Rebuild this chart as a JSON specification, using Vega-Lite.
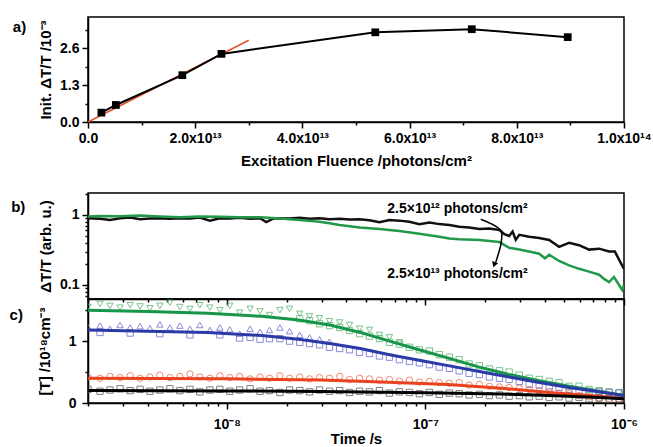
{
"$schema":"https://vega.github.io/schema/vega-lite/v6.json",
"background":"white",
"padding":{"left":8,"top":16,"right":5,"bottom":0},
"spacing":17,
"config":{
 "font":"Liberation Sans",
 "view":{"stroke":"#000","strokeWidth":1.5},
 "axis":{"grid":false,"domainColor":"#000","domainWidth":1.5,"tickColor":"#000","tickWidth":1.5,"labelFont":"Liberation Sans","labelFontWeight":"bold","labelFontSize":14,"labelColor":"#000","labelPadding":3,"labelFlush":false,"labelOverlap":false,"titleFont":"Liberation Sans","titleFontWeight":"bold","titleFontSize":15,"titleColor":"#000","titlePadding":8},
 "title":{"font":"Liberation Sans","fontWeight":"bold","fontSize":15,"color":"#000"}
},
"datasets":{
 "a":[{"f":2.5e12,"v":0.33},{"f":5.2e12,"v":0.60},{"f":1.76e13,"v":1.65},{"f":2.49e13,"v":2.40},{"f":5.36e13,"v":3.16},{"f":7.16e13,"v":3.27},{"f":8.95e13,"v":2.99}],
 "afit":[{"f":0,"v":0},{"f":3e13,"v":2.88}],
 "bcurve":[
  {"s":"lo","t":2.0e-9,"v":0.90},{"s":"lo","t":2.3e-9,"v":0.88},{"s":"lo","t":2.58e-9,"v":0.85},{"s":"lo","t":2.9e-9,"v":0.90},{"s":"lo","t":3.26e-9,"v":0.92},{"s":"lo","t":3.66e-9,"v":0.87},{"s":"lo","t":4.1e-9,"v":0.89},{"s":"lo","t":4.6e-9,"v":0.90},{"s":"lo","t":5.17e-9,"v":0.88},{"s":"lo","t":5.8e-9,"v":0.90},{"s":"lo","t":6.52e-9,"v":0.89},{"s":"lo","t":7.31e-9,"v":0.92},{"s":"lo","t":8.22e-9,"v":0.83},{"s":"lo","t":9.22e-9,"v":0.90},{"s":"lo","t":1.035e-8,"v":0.89},{"s":"lo","t":1.16e-8,"v":0.91},{"s":"lo","t":1.31e-8,"v":0.88},{"s":"lo","t":1.47e-8,"v":0.90},{"s":"lo","t":1.58e-8,"v":0.79},{"s":"lo","t":1.7e-8,"v":0.88},{"s":"lo","t":1.85e-8,"v":0.90},{"s":"lo","t":2.07e-8,"v":0.89},{"s":"lo","t":2.33e-8,"v":0.91},{"s":"lo","t":2.61e-8,"v":0.88},{"s":"lo","t":2.93e-8,"v":0.90},{"s":"lo","t":3.29e-8,"v":0.87},{"s":"lo","t":3.7e-8,"v":0.88},{"s":"lo","t":4.15e-8,"v":0.86},{"s":"lo","t":4.66e-8,"v":0.87},{"s":"lo","t":5.23e-8,"v":0.84},{"s":"lo","t":5.87e-8,"v":0.79},{"s":"lo","t":6.59e-8,"v":0.85},{"s":"lo","t":7.4e-8,"v":0.83},{"s":"lo","t":8.31e-8,"v":0.80},{"s":"lo","t":9.33e-8,"v":0.74},{"s":"lo","t":1.047e-7,"v":0.78},{"s":"lo","t":1.175e-7,"v":0.74},{"s":"lo","t":1.32e-7,"v":0.72},{"s":"lo","t":1.48e-7,"v":0.68},{"s":"lo","t":1.66e-7,"v":0.66},{"s":"lo","t":1.87e-7,"v":0.63},{"s":"lo","t":2.1e-7,"v":0.64},{"s":"lo","t":2.36e-7,"v":0.61},{"s":"lo","t":2.5e-7,"v":0.53},{"s":"lo","t":2.64e-7,"v":0.50},{"s":"lo","t":2.75e-7,"v":0.58},{"s":"lo","t":2.85e-7,"v":0.44},{"s":"lo","t":2.97e-7,"v":0.52},{"s":"lo","t":3.33e-7,"v":0.49},{"s":"lo","t":3.74e-7,"v":0.47},{"s":"lo","t":4.2e-7,"v":0.44},{"s":"lo","t":4.71e-7,"v":0.35},{"s":"lo","t":5.29e-7,"v":0.40},{"s":"lo","t":5.94e-7,"v":0.37},{"s":"lo","t":6.67e-7,"v":0.32},{"s":"lo","t":7.49e-7,"v":0.33},{"s":"lo","t":8.41e-7,"v":0.30},{"s":"lo","t":9.0e-7,"v":0.30},{"s":"lo","t":9.44e-7,"v":0.23},{"s":"lo","t":1e-6,"v":0.17},
  {"s":"hi","t":2.0e-9,"v":0.95},{"s":"hi","t":2.3e-9,"v":0.97},{"s":"hi","t":2.9e-9,"v":0.96},{"s":"hi","t":3.66e-9,"v":0.98},{"s":"hi","t":4.6e-9,"v":0.95},{"s":"hi","t":5.8e-9,"v":0.93},{"s":"hi","t":7.31e-9,"v":0.95},{"s":"hi","t":9.22e-9,"v":0.94},{"s":"hi","t":1.16e-8,"v":0.93},{"s":"hi","t":1.47e-8,"v":0.93},{"s":"hi","t":1.85e-8,"v":0.89},{"s":"hi","t":2.33e-8,"v":0.85},{"s":"hi","t":2.93e-8,"v":0.80},{"s":"hi","t":3.29e-8,"v":0.76},{"s":"hi","t":3.7e-8,"v":0.72},{"s":"hi","t":4.66e-8,"v":0.66},{"s":"hi","t":5.87e-8,"v":0.63},{"s":"hi","t":7.4e-8,"v":0.59},{"s":"hi","t":9.33e-8,"v":0.54},{"s":"hi","t":1.175e-7,"v":0.49},{"s":"hi","t":1.32e-7,"v":0.46},{"s":"hi","t":1.48e-7,"v":0.45},{"s":"hi","t":1.87e-7,"v":0.44},{"s":"hi","t":2.36e-7,"v":0.41},{"s":"hi","t":2.64e-7,"v":0.34},{"s":"hi","t":2.97e-7,"v":0.32},{"s":"hi","t":3.33e-7,"v":0.30},{"s":"hi","t":3.74e-7,"v":0.28},{"s":"hi","t":4.0e-7,"v":0.24},{"s":"hi","t":4.2e-7,"v":0.27},{"s":"hi","t":4.71e-7,"v":0.22},{"s":"hi","t":5.29e-7,"v":0.19},{"s":"hi","t":5.94e-7,"v":0.17},{"s":"hi","t":6.67e-7,"v":0.155},{"s":"hi","t":7.49e-7,"v":0.14},{"s":"hi","t":8.0e-7,"v":0.12},{"s":"hi","t":8.41e-7,"v":0.11},{"s":"hi","t":8.9e-7,"v":0.13},{"s":"hi","t":9.44e-7,"v":0.10},{"s":"hi","t":9.8e-7,"v":0.085},{"s":"hi","t":1e-6,"v":0.10}
 ],
 "blab":[{"t":1.45e-7,"v":1.22,"label":"2.5×10¹² photons/cm²"},{"t":1.45e-7,"v":0.144,"label":"2.5×10¹³ photons/cm²"}],
 "barrow":[{"o":1,"t":1.9e-7,"v":0.87},{"o":2,"t":2.36e-7,"v":0.63},{"o":3,"t":2.41e-7,"v":0.41},{"o":4,"t":2.26e-7,"v":0.21}],
 "bhead":[{"t":2.22e-7,"v":0.195}],
 "cfit":[
  {"s":"gf","t":2e-9,"v":1.50},{"s":"gf","t":4e-9,"v":1.48},{"s":"gf","t":8e-9,"v":1.45},{"s":"gf","t":1.5e-8,"v":1.40},{"s":"gf","t":2.3e-8,"v":1.34},{"s":"gf","t":3.3e-8,"v":1.26},{"s":"gf","t":4.7e-8,"v":1.14},{"s":"gf","t":6.6e-8,"v":1.00},{"s":"gf","t":9.3e-8,"v":0.86},{"s":"gf","t":1.32e-7,"v":0.72},{"s":"gf","t":1.87e-7,"v":0.58},{"s":"gf","t":2.64e-7,"v":0.46},{"s":"gf","t":3.74e-7,"v":0.36},{"s":"gf","t":5.29e-7,"v":0.27},{"s":"gf","t":7.49e-7,"v":0.19},{"s":"gf","t":1e-6,"v":0.12},
  {"s":"bf","t":2e-9,"v":1.18},{"s":"bf","t":4e-9,"v":1.16},{"s":"bf","t":8e-9,"v":1.14},{"s":"bf","t":1.5e-8,"v":1.09},{"s":"bf","t":2.3e-8,"v":1.03},{"s":"bf","t":3.3e-8,"v":0.96},{"s":"bf","t":4.7e-8,"v":0.88},{"s":"bf","t":6.6e-8,"v":0.78},{"s":"bf","t":9.3e-8,"v":0.69},{"s":"bf","t":1.32e-7,"v":0.60},{"s":"bf","t":1.87e-7,"v":0.51},{"s":"bf","t":2.64e-7,"v":0.42},{"s":"bf","t":3.74e-7,"v":0.33},{"s":"bf","t":5.29e-7,"v":0.25},{"s":"bf","t":7.49e-7,"v":0.18},{"s":"bf","t":1e-6,"v":0.12},
  {"s":"rf","t":2e-9,"v":0.40},{"s":"rf","t":1e-8,"v":0.39},{"s":"rf","t":3e-8,"v":0.37},{"s":"rf","t":6e-8,"v":0.34},{"s":"rf","t":1.3e-7,"v":0.30},{"s":"rf","t":2.4e-7,"v":0.24},{"s":"rf","t":4.2e-7,"v":0.17},{"s":"rf","t":7.5e-7,"v":0.11},{"s":"rf","t":1e-6,"v":0.07},
  {"s":"kf","t":2e-9,"v":0.20},{"s":"kf","t":1e-8,"v":0.195},{"s":"kf","t":3e-8,"v":0.185},{"s":"kf","t":1e-7,"v":0.165},{"s":"kf","t":2.4e-7,"v":0.145},{"s":"kf","t":4.2e-7,"v":0.12},{"s":"kf","t":7.5e-7,"v":0.09},{"s":"kf","t":1e-6,"v":0.07}
 ],
 "cmark":[
  {"s":"gt","t":2.0e-9,"v":1.55},{"s":"gt","t":2.3e-9,"v":1.60},{"s":"gt","t":2.58e-9,"v":1.57},{"s":"gt","t":2.9e-9,"v":1.54},{"s":"gt","t":3.26e-9,"v":1.58},{"s":"gt","t":3.66e-9,"v":1.56},{"s":"gt","t":4.1e-9,"v":1.53},{"s":"gt","t":4.6e-9,"v":1.57},{"s":"gt","t":5.17e-9,"v":1.62},{"s":"gt","t":5.8e-9,"v":1.55},{"s":"gt","t":6.52e-9,"v":1.52},{"s":"gt","t":7.31e-9,"v":1.58},{"s":"gt","t":8.22e-9,"v":1.54},{"s":"gt","t":9.22e-9,"v":1.50},{"s":"gt","t":1.035e-8,"v":1.57},{"s":"gt","t":1.16e-8,"v":1.46},{"s":"gt","t":1.31e-8,"v":1.52},{"s":"gt","t":1.47e-8,"v":1.48},{"s":"gt","t":1.64e-8,"v":1.42},{"s":"gt","t":1.85e-8,"v":1.50},{"s":"gt","t":2.07e-8,"v":1.52},{"s":"gt","t":2.33e-8,"v":1.44},{"s":"gt","t":2.61e-8,"v":1.40},{"s":"gt","t":2.93e-8,"v":1.37},{"s":"gt","t":3.29e-8,"v":1.32},{"s":"gt","t":3.7e-8,"v":1.30},{"s":"gt","t":4.15e-8,"v":1.26},{"s":"gt","t":4.66e-8,"v":1.20},{"s":"gt","t":5.23e-8,"v":1.18},{"s":"gt","t":5.87e-8,"v":1.10},{"s":"gt","t":6.59e-8,"v":1.06},{"s":"gt","t":7.4e-8,"v":0.98},
  {"s":"gs","t":2.33e-8,"v":1.36},{"s":"gs","t":2.61e-8,"v":1.33},{"s":"gs","t":2.93e-8,"v":1.28},{"s":"gs","t":3.29e-8,"v":1.25},{"s":"gs","t":3.7e-8,"v":1.22},{"s":"gs","t":4.15e-8,"v":1.17},{"s":"gs","t":4.66e-8,"v":1.12},{"s":"gs","t":5.23e-8,"v":1.08},{"s":"gs","t":5.87e-8,"v":1.04},{"s":"gs","t":6.59e-8,"v":0.98},{"s":"gs","t":7.4e-8,"v":0.95},{"s":"gs","t":8.31e-8,"v":0.90},{"s":"gs","t":9.33e-8,"v":0.86},{"s":"gs","t":1.047e-7,"v":0.84},{"s":"gs","t":1.175e-7,"v":0.78},{"s":"gs","t":1.32e-7,"v":0.74},{"s":"gs","t":1.48e-7,"v":0.70},{"s":"gs","t":1.66e-7,"v":0.63},{"s":"gs","t":1.87e-7,"v":0.60},{"s":"gs","t":2.1e-7,"v":0.55},{"s":"gs","t":2.36e-7,"v":0.52},{"s":"gs","t":2.64e-7,"v":0.50},{"s":"gs","t":2.97e-7,"v":0.45},{"s":"gs","t":3.33e-7,"v":0.40},{"s":"gs","t":3.74e-7,"v":0.38},{"s":"gs","t":4.2e-7,"v":0.35},{"s":"gs","t":4.71e-7,"v":0.33},{"s":"gs","t":5.29e-7,"v":0.27},{"s":"gs","t":5.94e-7,"v":0.27},{"s":"gs","t":6.67e-7,"v":0.22},{"s":"gs","t":7.49e-7,"v":0.20},{"s":"gs","t":8.41e-7,"v":0.18},{"s":"gs","t":9.44e-7,"v":0.17},{"s":"gs","t":1e-6,"v":0.15},
  {"s":"bt","t":2.0e-9,"v":1.22},{"s":"bt","t":2.3e-9,"v":1.25},{"s":"bt","t":2.58e-9,"v":1.20},{"s":"bt","t":2.9e-9,"v":1.26},{"s":"bt","t":3.26e-9,"v":1.22},{"s":"bt","t":3.66e-9,"v":1.24},{"s":"bt","t":4.1e-9,"v":1.21},{"s":"bt","t":4.6e-9,"v":1.27},{"s":"bt","t":5.17e-9,"v":1.22},{"s":"bt","t":5.8e-9,"v":1.25},{"s":"bt","t":6.52e-9,"v":1.20},{"s":"bt","t":7.31e-9,"v":1.26},{"s":"bt","t":8.22e-9,"v":1.18},{"s":"bt","t":9.22e-9,"v":1.22},{"s":"bt","t":1.035e-8,"v":1.19},{"s":"bt","t":1.16e-8,"v":1.12},{"s":"bt","t":1.31e-8,"v":1.20},{"s":"bt","t":1.47e-8,"v":1.15},{"s":"bt","t":1.64e-8,"v":1.18},{"s":"bt","t":1.85e-8,"v":1.22},{"s":"bt","t":2.07e-8,"v":1.16},{"s":"bt","t":2.33e-8,"v":1.10},{"s":"bt","t":2.61e-8,"v":1.06},{"s":"bt","t":2.93e-8,"v":1.03},{"s":"bt","t":3.29e-8,"v":0.99},
  {"s":"bs","t":2.3e-9,"v":1.14},{"s":"bs","t":3.26e-9,"v":1.13},{"s":"bs","t":4.6e-9,"v":1.12},{"s":"bs","t":6.52e-9,"v":1.10},{"s":"bs","t":9.22e-9,"v":1.10},{"s":"bs","t":1.16e-8,"v":1.05},{"s":"bs","t":1.31e-8,"v":1.06},{"s":"bs","t":1.47e-8,"v":1.03},{"s":"bs","t":1.64e-8,"v":1.04},{"s":"bs","t":1.85e-8,"v":1.04},{"s":"bs","t":2.07e-8,"v":1.00},{"s":"bs","t":2.33e-8,"v":0.98},{"s":"bs","t":2.61e-8,"v":0.96},{"s":"bs","t":2.93e-8,"v":0.94},{"s":"bs","t":3.29e-8,"v":0.90},{"s":"bs","t":3.7e-8,"v":0.88},{"s":"bs","t":4.15e-8,"v":0.86},{"s":"bs","t":4.66e-8,"v":0.82},{"s":"bs","t":5.23e-8,"v":0.80},{"s":"bs","t":5.87e-8,"v":0.76},{"s":"bs","t":6.59e-8,"v":0.74},{"s":"bs","t":7.4e-8,"v":0.70},{"s":"bs","t":8.31e-8,"v":0.67},{"s":"bs","t":9.33e-8,"v":0.65},{"s":"bs","t":1.047e-7,"v":0.62},{"s":"bs","t":1.175e-7,"v":0.58},{"s":"bs","t":1.32e-7,"v":0.56},{"s":"bs","t":1.48e-7,"v":0.52},{"s":"bs","t":1.66e-7,"v":0.48},{"s":"bs","t":1.87e-7,"v":0.46},{"s":"bs","t":2.1e-7,"v":0.42},{"s":"bs","t":2.36e-7,"v":0.40},{"s":"bs","t":2.64e-7,"v":0.38},{"s":"bs","t":2.97e-7,"v":0.35},{"s":"bs","t":3.33e-7,"v":0.30},{"s":"bs","t":3.74e-7,"v":0.29},{"s":"bs","t":4.2e-7,"v":0.26},{"s":"bs","t":4.71e-7,"v":0.25},{"s":"bs","t":5.29e-7,"v":0.22},{"s":"bs","t":5.94e-7,"v":0.20},{"s":"bs","t":6.67e-7,"v":0.19},{"s":"bs","t":7.49e-7,"v":0.18},{"s":"bs","t":8.41e-7,"v":0.17},{"s":"bs","t":9.44e-7,"v":0.16},
  {"s":"r","t":2.0e-9,"v":0.42},{"s":"r","t":2.3e-9,"v":0.40},{"s":"r","t":2.58e-9,"v":0.43},{"s":"r","t":2.9e-9,"v":0.41},{"s":"r","t":3.26e-9,"v":0.44},{"s":"r","t":3.66e-9,"v":0.40},{"s":"r","t":4.1e-9,"v":0.42},{"s":"r","t":4.6e-9,"v":0.45},{"s":"r","t":5.17e-9,"v":0.41},{"s":"r","t":5.8e-9,"v":0.43},{"s":"r","t":6.52e-9,"v":0.47},{"s":"r","t":7.31e-9,"v":0.42},{"s":"r","t":8.22e-9,"v":0.40},{"s":"r","t":9.22e-9,"v":0.44},{"s":"r","t":1.035e-8,"v":0.41},{"s":"r","t":1.16e-8,"v":0.43},{"s":"r","t":1.31e-8,"v":0.39},{"s":"r","t":1.47e-8,"v":0.42},{"s":"r","t":1.64e-8,"v":0.40},{"s":"r","t":1.85e-8,"v":0.44},{"s":"r","t":2.07e-8,"v":0.40},{"s":"r","t":2.33e-8,"v":0.42},{"s":"r","t":2.61e-8,"v":0.39},{"s":"r","t":2.93e-8,"v":0.41},{"s":"r","t":3.29e-8,"v":0.40},{"s":"r","t":3.7e-8,"v":0.43},{"s":"r","t":4.15e-8,"v":0.38},{"s":"r","t":4.66e-8,"v":0.40},{"s":"r","t":5.23e-8,"v":0.39},{"s":"r","t":5.87e-8,"v":0.37},{"s":"r","t":6.59e-8,"v":0.38},{"s":"r","t":7.4e-8,"v":0.35},{"s":"r","t":8.31e-8,"v":0.37},{"s":"r","t":9.33e-8,"v":0.34},{"s":"r","t":1.047e-7,"v":0.35},{"s":"r","t":1.175e-7,"v":0.33},{"s":"r","t":1.32e-7,"v":0.32},{"s":"r","t":1.48e-7,"v":0.33},{"s":"r","t":1.66e-7,"v":0.29},{"s":"r","t":1.87e-7,"v":0.30},{"s":"r","t":2.1e-7,"v":0.27},{"s":"r","t":2.36e-7,"v":0.26},{"s":"r","t":2.64e-7,"v":0.25},{"s":"r","t":2.97e-7,"v":0.24},{"s":"r","t":3.33e-7,"v":0.22},{"s":"r","t":3.74e-7,"v":0.20},{"s":"r","t":4.2e-7,"v":0.19},{"s":"r","t":4.71e-7,"v":0.16},{"s":"r","t":5.29e-7,"v":0.15},{"s":"r","t":5.94e-7,"v":0.12},{"s":"r","t":6.67e-7,"v":0.10},{"s":"r","t":7.49e-7,"v":0.08},{"s":"r","t":8.41e-7,"v":0.07},{"s":"r","t":9.44e-7,"v":0.06},
  {"s":"k","t":2.0e-9,"v":0.22},{"s":"k","t":2.3e-9,"v":0.19},{"s":"k","t":2.58e-9,"v":0.21},{"s":"k","t":2.9e-9,"v":0.23},{"s":"k","t":3.26e-9,"v":0.20},{"s":"k","t":3.66e-9,"v":0.22},{"s":"k","t":4.1e-9,"v":0.19},{"s":"k","t":4.6e-9,"v":0.21},{"s":"k","t":5.17e-9,"v":0.23},{"s":"k","t":5.8e-9,"v":0.20},{"s":"k","t":6.52e-9,"v":0.22},{"s":"k","t":7.31e-9,"v":0.18},{"s":"k","t":8.22e-9,"v":0.21},{"s":"k","t":9.22e-9,"v":0.22},{"s":"k","t":1.035e-8,"v":0.19},{"s":"k","t":1.16e-8,"v":0.21},{"s":"k","t":1.31e-8,"v":0.23},{"s":"k","t":1.47e-8,"v":0.19},{"s":"k","t":1.64e-8,"v":0.20},{"s":"k","t":1.85e-8,"v":0.17},{"s":"k","t":2.07e-8,"v":0.21},{"s":"k","t":2.33e-8,"v":0.20},{"s":"k","t":2.61e-8,"v":0.18},{"s":"k","t":2.93e-8,"v":0.21},{"s":"k","t":3.29e-8,"v":0.19},{"s":"k","t":3.7e-8,"v":0.20},{"s":"k","t":4.15e-8,"v":0.17},{"s":"k","t":4.66e-8,"v":0.19},{"s":"k","t":5.23e-8,"v":0.18},{"s":"k","t":5.87e-8,"v":0.20},{"s":"k","t":6.59e-8,"v":0.16},{"s":"k","t":7.4e-8,"v":0.18},{"s":"k","t":8.31e-8,"v":0.17},{"s":"k","t":9.33e-8,"v":0.15},{"s":"k","t":1.047e-7,"v":0.17},{"s":"k","t":1.175e-7,"v":0.14},{"s":"k","t":1.32e-7,"v":0.16},{"s":"k","t":1.48e-7,"v":0.15},{"s":"k","t":1.66e-7,"v":0.13},{"s":"k","t":1.87e-7,"v":0.14},{"s":"k","t":2.1e-7,"v":0.12},{"s":"k","t":2.36e-7,"v":0.13},{"s":"k","t":2.64e-7,"v":0.11},{"s":"k","t":2.97e-7,"v":0.12},{"s":"k","t":3.33e-7,"v":0.10},{"s":"k","t":3.74e-7,"v":0.11},{"s":"k","t":4.2e-7,"v":0.09},{"s":"k","t":4.71e-7,"v":0.10},{"s":"k","t":5.29e-7,"v":0.08},{"s":"k","t":5.94e-7,"v":0.09},{"s":"k","t":6.67e-7,"v":0.07},{"s":"k","t":7.49e-7,"v":0.08},{"s":"k","t":8.41e-7,"v":0.06},{"s":"k","t":9.44e-7,"v":0.07}
 ]
},
"vconcat":[
 {
  "width":536,"height":105,
  "title":{"text":"a)","orient":"left","anchor":"end","angle":0,"align":"right","baseline":"top","offset":-1,"dy":3,"frame":"group"},
  "encoding":{
   "x":{"field":"f","type":"quantitative","scale":{"domain":[0,1e14],"nice":false},
     "axis":{"title":"Excitation Fluence /photons/cm²","values":[0,1e13,2e13,3e13,4e13,5e13,6e13,7e13,8e13,9e13,1e14],
       "labelExpr":"datum.value == 0 ? '0.0' : datum.value == 1e14 ? '1.0x10¹⁴' : (datum.value % 2e13 == 0 ? format(datum.value/1e13, '.1f') + 'x10¹³' : '')",
       "tickSize":{"condition":{"test":"datum.value % 2e13 == 0","value":6},"value":3},"titlePadding":8}},
   "y":{"field":"v","type":"quantitative","scale":{"domain":[0,3.7],"nice":false},
     "axis":{"title":"Init. ΔT/T /10⁻³","values":[0,0.65,1.3,1.95,2.6,3.25],"titlePadding":6,
       "labelExpr":"(datum.value == 0 || datum.value == 1.3 || datum.value == 2.6) ? format(datum.value, '.1f') : ''",
       "tickSize":{"condition":{"test":"datum.value == 0 || datum.value == 1.3 || datum.value == 2.6","value":6},"value":3}}}
  },
  "layer":[
   {"data":{"name":"afit"},"mark":{"type":"line","color":"#e8502a","strokeWidth":1.5}},
   {"data":{"name":"a"},"mark":{"type":"line","color":"#000","strokeWidth":2}},
   {"data":{"name":"a"},"mark":{"type":"square","color":"#000","filled":true,"size":60,"opacity":1}}
  ]
 },
 {
  "spacing":0,"bounds":"flush",
  "vconcat":[
   {
    "width":536,"height":106,
    "title":{"text":"b)","orient":"left","anchor":"end","angle":0,"align":"right","baseline":"top","offset":-1,"dy":7,"frame":"group"},
    "encoding":{
     "x":{"field":"t","type":"quantitative","scale":{"type":"log","domain":[2e-9,1e-6],"nice":false},
       "axis":{"title":null,"labels":false,"values":[2e-9,3e-9,4e-9,5e-9,6e-9,7e-9,8e-9,9e-9,1e-8,2e-8,3e-8,4e-8,5e-8,6e-8,7e-8,8e-8,9e-8,1e-7,2e-7,3e-7,4e-7,5e-7,6e-7,7e-7,8e-7,9e-7,1e-6],
        "tickSize":{"condition":{"test":"datum.value == 1e-8 || datum.value == 1e-7 || datum.value == 1e-6","value":6},"value":3}}},
     "y":{"field":"v","type":"quantitative","scale":{"type":"log","domain":[0.063,2.06],"nice":false},
       "axis":{"title":"ΔT/T (arb. u.)","titlePadding":6,"values":[0.07,0.08,0.09,0.1,0.2,0.3,0.4,0.5,0.6,0.7,0.8,0.9,1,2],
        "labelExpr":"datum.value == 1 ? '1' : datum.value == 0.1 ? '0.1' : ''",
        "tickSize":{"condition":{"test":"datum.value == 1 || datum.value == 0.1","value":6},"value":3}}}
    },
    "layer":[
     {"data":{"name":"bcurve"},"mark":{"type":"line","strokeWidth":2.5,"clip":true},
      "encoding":{"color":{"field":"s","type":"nominal","scale":{"domain":["gt","gs","bt","bs","r","k","gf","bf","rf","kf","lo","hi"],"range":["#4fb064","#4fb064","#6464cc","#6464cc","#f0603e","#555555","#17964a","#2b3aa6","#e8421e","#000000","#111111","#22994a"]},"legend":null}}},
     {"data":{"name":"barrow"},"mark":{"type":"line","color":"#000","strokeWidth":1.5,"interpolate":"cardinal"},
      "encoding":{"order":{"field":"o","type":"quantitative"}}},
     {"data":{"name":"bhead"},"mark":{"type":"point","shape":"triangle-down","filled":true,"color":"#000","size":40,"angle":20,"opacity":1}},
     {"data":{"name":"blab"},"mark":{"type":"text","font":"Liberation Sans","fontWeight":"bold","fontSize":14,"color":"#000"},
      "encoding":{"text":{"field":"label","type":"nominal"}}}
    ]
   },
   {
    "width":536,"height":104,
    "title":{"text":"c)","orient":"left","anchor":"end","angle":0,"align":"right","baseline":"top","offset":1,"dy":9,"frame":"group"},
    "encoding":{
     "x":{"field":"t","type":"quantitative","scale":{"type":"log","domain":[2e-9,1e-6],"nice":false},
       "axis":{"title":"Time /s","labelPadding":8,"titlePadding":0,"values":[2e-9,3e-9,4e-9,5e-9,6e-9,7e-9,8e-9,9e-9,1e-8,2e-8,3e-8,4e-8,5e-8,6e-8,7e-8,8e-8,9e-8,1e-7,2e-7,3e-7,4e-7,5e-7,6e-7,7e-7,8e-7,9e-7,1e-6],
        "labelExpr":"datum.value == 1e-8 ? '10⁻⁸' : datum.value == 1e-7 ? '10⁻⁷' : datum.value == 1e-6 ? '10⁻⁶' : ''",
        "tickSize":{"condition":{"test":"datum.value == 1e-8 || datum.value == 1e-7 || datum.value == 1e-6","value":6},"value":3}}},
     "y":{"field":"v","type":"quantitative","scale":{"domain":[0,1.68],"nice":false},
       "axis":{"title":"[T] /10¹⁸cm⁻³","titlePadding":16,"values":[0,0.5,1,1.5],"labelPadding":6,
        "labelExpr":"datum.value == 0 ? '0' : datum.value == 1 ? '1' : ''",
        "tickSize":{"condition":{"test":"datum.value == 0 || datum.value == 1","value":6},"value":3}}}
    },
    "layer":[
     {"data":{"name":"cmark"},"mark":{"type":"point","filled":false,"strokeWidth":1,"size":40,"opacity":0.75,"clip":true},
      "encoding":{
       "color":{"field":"s","type":"nominal","scale":{"domain":["gt","gs","bt","bs","r","k","gf","bf","rf","kf","lo","hi"],"range":["#4fb064","#4fb064","#6464cc","#6464cc","#f0603e","#555555","#17964a","#2b3aa6","#e8421e","#000000","#111111","#22994a"]},"legend":null},
       "shape":{"field":"s","type":"nominal","scale":{"domain":["gt","gs","bt","bs","r","k"],"range":["triangle-down","square","triangle-up","square","circle","square"]},"legend":null}}},
     {"data":{"name":"cfit"},"mark":{"type":"line","strokeWidth":3,"clip":true},
      "encoding":{"color":{"field":"s","type":"nominal","scale":{"domain":["gt","gs","bt","bs","r","k","gf","bf","rf","kf","lo","hi"],"range":["#4fb064","#4fb064","#6464cc","#6464cc","#f0603e","#555555","#17964a","#2b3aa6","#e8421e","#000000","#111111","#22994a"]},"legend":null}}}
    ]
   }
  ]
 }
]
}
